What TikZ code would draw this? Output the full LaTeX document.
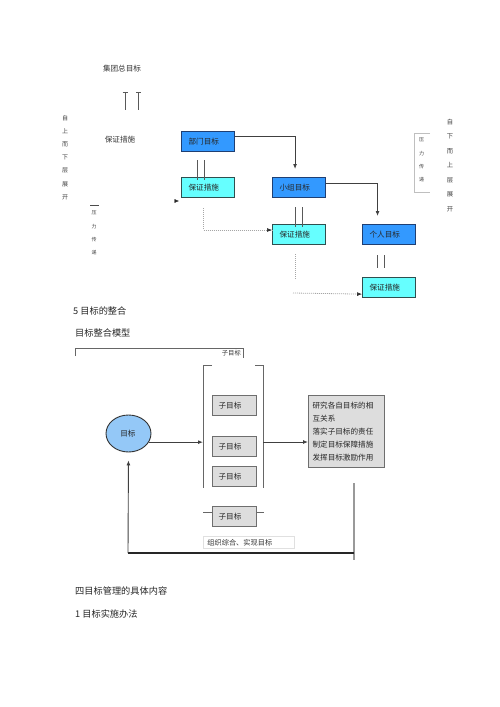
\documentclass[tikz,border=0pt]{standalone}
\usepackage{fontspec}
\newfontfamily\cjk{Noto Sans CJK SC}
\usetikzlibrary{arrows.meta,shapes.geometric}
\definecolor{bluefill}{HTML}{3399FF}
\definecolor{blueedge}{HTML}{1F3F73}
\definecolor{cyanfill}{HTML}{66FFFF}
\definecolor{cyanedge}{HTML}{2F4F4F}
\definecolor{grayfill}{HTML}{DDDDDD}
\definecolor{grayedge}{HTML}{6E6E6E}
\definecolor{ellfill}{HTML}{94C8F7}
\begin{document}
\begin{tikzpicture}[x=1pt,y=-1pt,
  txt/.style={inner sep=0pt, text=black!80, font=\cjk\fontsize{7.6}{9}\selectfont},
  head/.style={inner sep=0pt, text=black!85, font=\cjk\fontsize{9.2}{11}\selectfont, anchor=west},
  vtxt/.style={inner sep=0pt, text=black!75, align=center},
  boxbase/.style={anchor=north west, inner ysep=0pt, minimum height=20pt, align=left,
     font=\cjk\fontsize{7.6}{9}\selectfont, text=black!85},
  bluebox/.style={boxbase, draw=blueedge, line width=1.1pt, fill=bluefill, text width=39pt, inner xsep=7pt},
  cyanbox/.style={boxbase, draw=cyanedge, line width=1.1pt, fill=cyanfill, text width=39pt, inner xsep=7pt},
  graybox/.style={boxbase, draw=grayedge, line width=1.1pt, fill=grayfill, text width=32pt, inner xsep=6pt},
  conn/.style={draw=black!75, line width=0.9pt, -{Latex[length=5pt,width=4pt]}},
  dotc/.style={draw=black!35, line width=0.8pt, dash pattern=on 1pt off 1pt},
  dbl/.style={draw=black!65, line width=0.9pt},
]
\useasboundingbox (0,0) rectangle (500,707);

% ---------- top part ----------
\node[txt] (jt) at (122,69) {集团总目标};
\coordinate (t1) at (125,92);
\coordinate (t2) at (138.5,92);
\draw[dbl] ([xshift=-2.5pt]t1) -- ([xshift=2.5pt]t1);
\draw[dbl] (t1) -- ++(0,18);
\draw[dbl] ([xshift=-2.5pt]t2) -- ([xshift=2.5pt]t2);
\draw[dbl] (t2) -- ++(0,18);
\node[txt] (bz0) at (120,140) {保证措施};

\node[vtxt, font=\cjk\fontsize{6}{13.2}\selectfont] (lv) at (65,157.5)
  {自\\上\\而\\下\\层\\展\\开};
\node[vtxt, font=\cjk\fontsize{6.3}{14.5}\selectfont] (rv) at (450,165.5)
  {自\\下\\而\\上\\层\\展\\开};

\coordinate (ls1) at (90,205);
\coordinate (ls2) at (99,205);
\draw[draw=black!70, line width=0.8pt] (ls1) -- (ls2);
\node[vtxt, font=\cjk\fontsize{5}{13.3}\selectfont] (lp) at (94,233)
  {压\\力\\传\\递};

\node[vtxt, font=\cjk\fontsize{5}{13.3}\selectfont] (rp) at (421.5,160)
  {压\\力\\传\\递};
\draw[draw=black!25, line width=0.8pt] (430,133) -- (414.5,133) -- (414.5,192) -- (430,192);

\node[bluebox] (bm) at (181,131) {部门目标};
\node[cyanbox] (bz1) at (181,177) {保证措施};
\node[bluebox] (xz) at (272,177) {小组目标};
\node[cyanbox] (bz2) at (272,224) {保证措施};
\node[bluebox] (gr) at (362,224) {个人目标};
\node[cyanbox] (bz3) at (362,277) {保证措施};

\draw[conn, shorten >=8pt] ([yshift=-5pt]bm.north east) -| ([xshift=-4pt]xz.north);
\draw[conn, shorten >=8pt] ([yshift=-6pt]xz.north east) -| ([xshift=-11.5pt]gr.north);

\draw[dbl] ([xshift=-10.5pt,yshift=17pt]bz1.north) -- ([xshift=-10.5pt,yshift=-3pt]bz1.north);
\draw[dbl] ([xshift=-3.5pt,yshift=17pt]bz1.north) -- ([xshift=-3.5pt,yshift=-3pt]bz1.north);
\draw[dbl] ([xshift=-4pt,yshift=17pt]bz2.north) -- ([xshift=-4pt,yshift=-3pt]bz2.north);
\draw[dbl] ([xshift=3.5pt,yshift=17pt]bz2.north) -- ([xshift=3.5pt,yshift=-3pt]bz2.north);
\draw[dbl] ([xshift=-11.5pt,yshift=-10pt]gr.south) -- ([xshift=-11.5pt,yshift=-23pt]gr.south);
\draw[dbl] ([xshift=-4.5pt,yshift=-10pt]gr.south) -- ([xshift=-4.5pt,yshift=-23pt]gr.south);

\draw[dotc] ([xshift=-4.5pt,yshift=-10pt]bz1.south) |- ([yshift=-6pt]bz2.north west);
\draw[-{Latex[length=5pt,width=4pt]}, black!80, line width=0.6pt] ([xshift=-2pt,yshift=-6pt]bz2.north west) -- ([yshift=-6pt]bz2.north west);
\draw[dotc] ([xshift=-4pt,yshift=-9pt]bz2.south) -- ([xshift=-4pt,yshift=-35pt]bz2.south);
\coordinate (d2) at (293,293);
\draw[dotc] (d2) -- ([xshift=-2pt,yshift=4pt]bz3.south west);
\draw[-{Latex[length=5pt,width=4pt]}, black!80, line width=0.6pt] ([xshift=-2pt,yshift=4pt]bz3.south west) -- ([yshift=4pt]bz3.south west);

\coordinate (lt) at (175.5,201);
\draw[-{Latex[length=4.5pt,width=4pt]}, black!85, line width=0.4pt] (lt) -- ++(3.5,0);

% ---------- headings ----------
\node[head] (h5) at (73,311) {5 目标的整合};
\node[head] (hm) at (75,333) {目标整合模型};

% ---------- model ----------
\draw[draw=black!60, line width=0.8pt] (75,356) -- (75,348) -- (243,348) -- (243,358);
\node[txt, font=\cjk\fontsize{6.3}{8}\selectfont, anchor=east] (zt) at (241,353.5) {子目标};

\draw[draw=black!60, line width=1pt] (212,365) -- (203,365) -- (203,488);
\draw[draw=black!60, line width=1pt] (255,365) -- (263,365) -- (263,488);
\coordinate (brL) at (203,442);
\coordinate (brR) at (263,442);

\node[graybox] (ga) at (212,395) {子目标};
\node[graybox] (gb) at (212,436) {子目标};
\node[graybox] (gc) at (212,466) {子目标};
\node[graybox] (gd) at (212,506) {子目标};
\draw[draw=black!60, line width=1pt] ([yshift=-6pt]gd.north west) -- ([xshift=-9pt,yshift=-6pt]gd.north west);
\draw[draw=black!60, line width=1pt] ([yshift=-6pt]gd.north east) -- ([xshift=7pt,yshift=-6pt]gd.north east);

\node[ellipse, draw=black!80, line width=0.9pt, fill=ellfill, minimum width=45pt, minimum height=37pt,
      inner sep=0pt, font=\cjk\fontsize{7.6}{9}\selectfont, text=black!85] (el) at (128.5,433.5) {目标\,};

\node[graybox, text width=68pt, inner xsep=4pt, minimum height=72pt,
      font=\cjk\fontsize{7.6}{13}\selectfont] (rb) at (308,395)
  {研究各自目标的相\\互关系\\落实子目标的责任\\制定目标保障措施\\发挥目标激励作用};

\draw[conn] (el.-23) -- (el.-23 -| brL);
\draw[conn] (brR) -- (rb.west |- brR);

\coordinate (v1) at (354,483);
\coordinate (v2) at (354,560);
\coordinate (cb) at (128,553);
\draw[draw=black!40, line width=1.5pt] (v1) -- (v2);
\draw[draw=black!85, line width=1.1pt] (cb) -- (cb -| v1);
\draw[conn, shorten >=8pt] (cb) -- (el.south);

\node[anchor=north west, draw=black!12, line width=0.8pt, minimum width=91pt, minimum height=12pt,
      inner xsep=4pt, inner ysep=0pt, text width=83pt, align=left,
      font=\cjk\fontsize{7.2}{9}\selectfont, text=black!80] (lb) at (203,536) {组织综合、实现目标};

% ---------- bottom headings ----------
\node[head] (h4) at (75,591) {四目标管理的具体内容};
\node[head] (h1) at (75,614) {1 目标实施办法};
\end{tikzpicture}
\end{document}
